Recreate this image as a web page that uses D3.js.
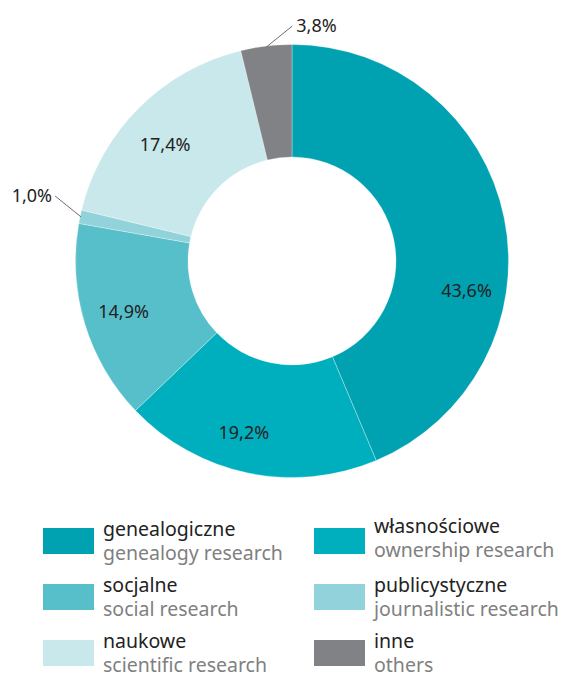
<!DOCTYPE html>
<html>
<head>
<meta charset="utf-8">
<script src="https://cdn.jsdelivr.net/npm/d3@7"></script>
<style>
  html, body { margin: 0; padding: 0; background: #fff; }
  svg { display: block; }
  text { font-family: "Noto Sans", "Open Sans", sans-serif; }
</style>
</head>
<body>
<svg id="chart" width="568" height="673"></svg>
<script>
// ---- data ----
const categoriesPL = ["genealogiczne", "własnościowe", "socjalne", "publicystyczne", "naukowe", "inne"];
const categoriesEN = ["genealogy research", "ownership research", "social research", "journalistic research", "scientific research", "others"];
const values = [43.6, 19.2, 14.9, 1.0, 17.4, 3.8];
const valueLabels = ["43,6%", "19,2%", "14,9%", "1,0%", "17,4%", "3,8%"];

// ---- styles / layout (not data) ----
const colors = ["#00a1b1", "#00afbe", "#57bfc9", "#92d2db", "#c9e8ec", "#818286"];
const labelAngleShift = [21, 4, 0, 0, -2.5, 0];   // degrees, inside labels
const labelRadiusShift = [1, 2, 0, 0, -4, 0];
const labelOutside = [false, false, false, true, false, true];

const svg = d3.select("#chart");
const cx = 292, cy = 261, rOuter = 216.5, rInner = 104;

const pie = d3.pie().sort(null).value(d => d)(values);
const arc = d3.arc().innerRadius(rInner).outerRadius(rOuter);

const g = svg.append("g").attr("transform", `translate(${cx},${cy})`);

g.selectAll("path.slice")
  .data(pie)
  .join("path")
  .attr("class", "slice")
  .attr("d", arc)
  .attr("fill", (d, i) => colors[i])
  .attr("stroke", "#ffffff")
  .attr("stroke-width", 0.6)
  .attr("stroke-opacity", 0.5);

const labelR = 176;
const fontLab = 18;

pie.forEach((d, i) => {
  const mid = (d.startAngle + d.endAngle) / 2;
  if (!labelOutside[i]) {
    const a = mid + labelAngleShift[i] * Math.PI / 180;
    const r = labelR + labelRadiusShift[i];
    g.append("text")
      .attr("x", r * Math.sin(a))
      .attr("y", -r * Math.cos(a))
      .attr("dy", "0.36em")
      .attr("text-anchor", "middle")
      .attr("font-size", fontLab)
      .attr("fill", "#222222")
      .text(valueLabels[i]);
  } else {
    // leader line: from outer edge at mid-angle, diagonally up and outward
    const r1 = rOuter - 1;
    const p1 = [r1 * Math.sin(mid), -r1 * Math.cos(mid)];
    const dir = Math.sin(mid) < -0.5 ? -1 : 1;
    const p2 = [p1[0] + dir * 26, p1[1] - 21];
    g.append("line")
      .attr("x1", p1[0]).attr("y1", p1[1])
      .attr("x2", p2[0]).attr("y2", p2[1])
      .attr("stroke", "#6d6e71")
      .attr("stroke-width", 1);
    g.append("text")
      .attr("x", dir < 0 ? p2[0] - 3 : p2[0] + 4)
      .attr("y", p2[1] + 6)
      .attr("text-anchor", dir < 0 ? "end" : "start")
      .attr("font-size", fontLab)
      .attr("fill", "#222222")
      .text(valueLabels[i]);
  }
});

// ---- legend ----
const legX = [43, 314];
const legY0 = 528, legStep = 56;
const sw = 51, sh = 26;
const legFont = 19.5;
const legend = svg.append("g");
categoriesPL.forEach((name, i) => {
  const col = i % 2, row = Math.floor(i / 2);
  const x = legX[col], y = legY0 + row * legStep;
  const dyCol = (col === 1 && row === 0) ? -3 : 0;
  const gg = legend.append("g").attr("transform", `translate(${x},${y})`);
  gg.append("rect").attr("width", sw).attr("height", sh).attr("fill", colors[i]);
  gg.append("text")
    .attr("x", sw + 9).attr("y", 8 + dyCol)
    .attr("font-size", legFont).attr("fill", "#222222")
    .text(name);
  gg.append("text")
    .attr("x", sw + 9).attr("y", 32 + dyCol)
    .attr("font-size", legFont).attr("fill", "#808080")
    .text(categoriesEN[i]);
});
</script>
</body>
</html>
